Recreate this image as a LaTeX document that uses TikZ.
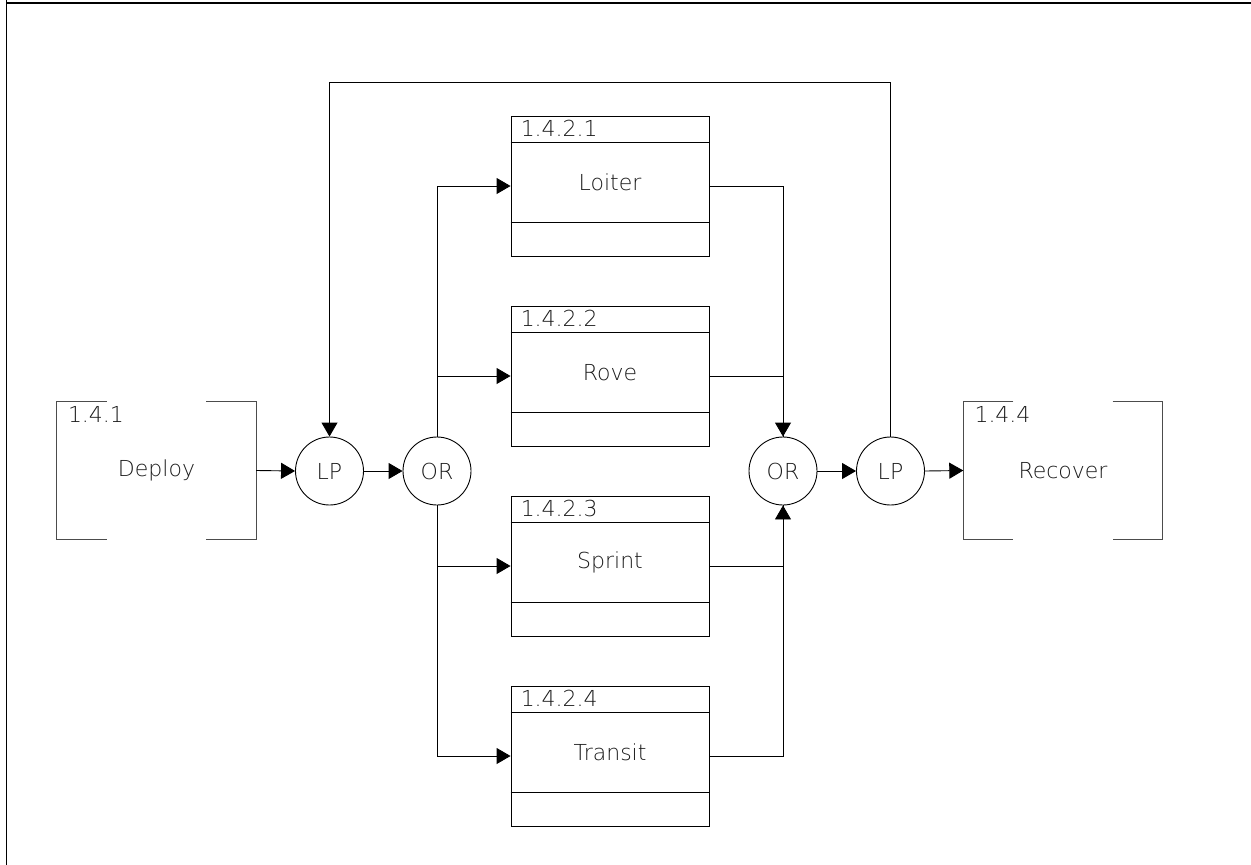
\documentclass[tikz,border=0pt]{standalone}
\usepackage{fontspec}
\IfFontExistsTF{DejaVu Sans ExtraLight}{\setmainfont{DejaVu Sans ExtraLight}}{\setmainfont{DejaVu Sans}}
\usetikzlibrary{arrows.meta,calc}
\definecolor{txt}{HTML}{1A1A1A}
\tikzset{
  ln/.style={draw=black, line width=0.9pt},
  arr/.style={ln, -{Triangle[length=14pt,width=16pt]}},
  brk/.style={draw=black!70, line width=1pt},
  extbox/.style={rectangle, minimum width=199pt, minimum height=137pt, inner sep=0pt, text=txt, font=\fontsize{22}{26}\selectfont},
  junc/.style={circle, ln, minimum size=68pt, inner sep=0pt, text=txt, font=\fontsize{22}{26}\selectfont},
  procbox/.style={rectangle, ln, minimum width=198pt, minimum height=140pt, inner sep=0pt},
  lbl/.style={text=txt, font=\fontsize{22}{26}\selectfont, inner sep=0pt},
}
\begin{document}
\begin{tikzpicture}[x=1pt,y=-1pt]
\useasboundingbox (0,0) rectangle (1251,865);
% frame
\draw[line width=1.4pt] (6.5,865) -- (6.5,0);
\draw[line width=1.2pt] (6.5,3) -- (1251,3);

% external boxes
\node[extbox] (deploy) at (156.5,470.5) {Deploy};
\node[extbox] (recover) at (1063,470.5) {Recover};
\foreach \b in {deploy,recover}{
  \draw[brk] ($(\b.north west)+(50,0)$) -- (\b.north west) -- (\b.south west) -- ($(\b.south west)+(50,0)$);
  \draw[brk] ($(\b.north east)+(-50,0)$) -- (\b.north east) -- (\b.south east) -- ($(\b.south east)+(-50,0)$);
}
\node[lbl, anchor=base west] (deploylbl) at ($(deploy.north west)+(11,21)$) {1.4.1};
\node[lbl, anchor=base west] (recoverlbl) at ($(recover.north west)+(11,21)$) {1.4.4};

% junctions
\node[junc] (lp1) at (329.5,471) {LP};
\node[junc] (or1) at (437,471) {OR};
\node[junc] (or2) at (783,471) {OR};
\node[junc] (lp2) at (890.5,471) {LP};

% process boxes
\foreach \n/\y/\num/\name in {loiter/186/1.4.2.1/Loiter, rove/376/1.4.2.2/Rove, sprint/566/1.4.2.3/Sprint, transit/756/1.4.2.4/Transit}{
  \node[procbox] (\n) at (610,\y) {};
  \draw[ln] ($(\n.north west)+(0,27)$) -- ($(\n.north east)+(0,27)$);
  \draw[ln] ($(\n.south west)+(0,-34)$) -- ($(\n.south east)+(0,-34)$);
  \node[lbl, anchor=base west] (\n num) at ($(\n.north west)+(10,21)$) {\num};
  \node[lbl] (\n name) at ($(\n.center)+(0,-3.5)$) {\name};
}

% connectors
\draw[arr] (deploy.east) -- (lp1.west);
\draw[arr] (lp1.east) -- (or1.west);
\draw[arr] (or2.east) -- (lp2.west);
\draw[arr] (lp2.east) -- (recover.west);

\draw[arr] (or1.north) |- (loiter.west);
\draw[arr] (or1.north) |- (rove.west);
\draw[arr] (or1.south) |- (sprint.west);
\draw[arr] (or1.south) |- (transit.west);

\draw[ln] (rove.east) -| (or2.north);
\draw[arr] (loiter.east) -| (or2.north);
\draw[ln] (transit.east) -| (or2.south);
\draw[arr] (sprint.east) -| (or2.south);

\coordinate (fbR) at (890.5,82);
\coordinate (fbL) at (329.5,82);
\draw[arr] (lp2.north) -- (fbR) -- (fbL) -- (lp1.north);
\end{tikzpicture}
\end{document}
